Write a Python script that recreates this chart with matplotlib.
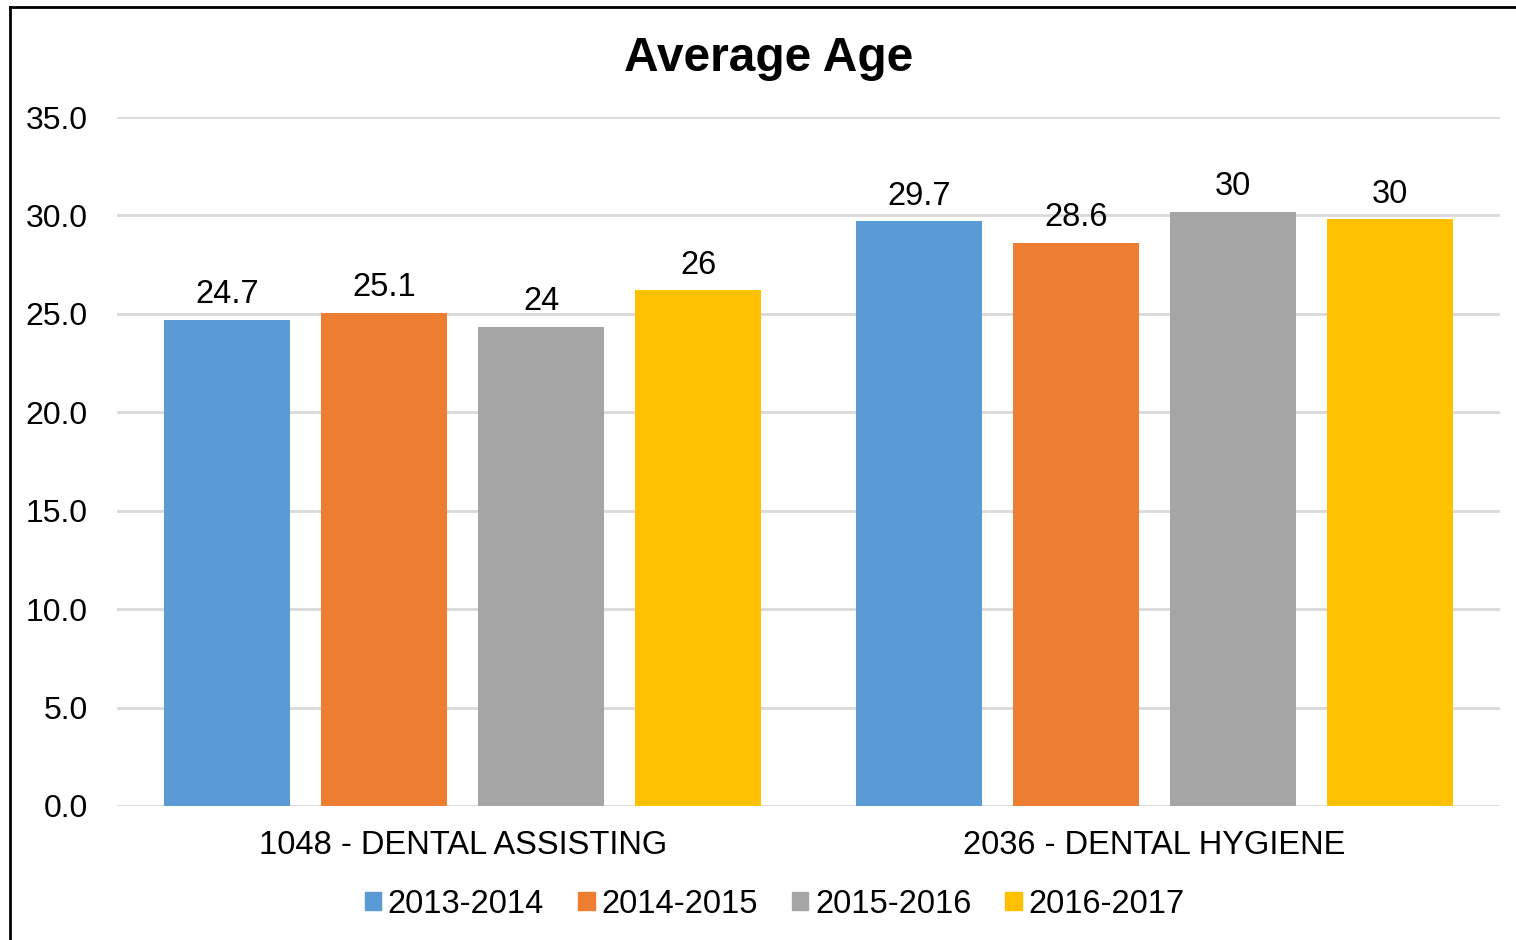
import numpy as np
import matplotlib.pyplot as plt
from matplotlib.lines import Line2D

plt.rcParams['font.family'] = ['Liberation Sans', 'DejaVu Sans']

categories = ["1048 - DENTAL ASSISTING", "2036 - DENTAL HYGIENE"]
years = ["2013-2014", "2014-2015", "2015-2016", "2016-2017"]
values = {
    "2013-2014": [24.7, 29.7],
    "2014-2015": [25.05, 28.6],
    "2015-2016": [24.35, 30.2],
    "2016-2017": [26.2, 29.8],
}
labels = {
    "2013-2014": ["24.7", "29.7"],
    "2014-2015": ["25.1", "28.6"],
    "2015-2016": ["24", "30"],
    "2016-2017": ["26", "30"],
}
colors = ["#5B9BD5", "#ED7D31", "#A5A5A5", "#FFC000"]

fig = plt.figure(figsize=(15.16, 9.4), dpi=100)
ax = fig.add_axes([0.0772, 0.1426, 0.9122, 0.7329])

x = np.arange(len(categories))
w = 0.182
step = 0.227
for i, yr in enumerate(years):
    pos = x + (i - 1.5) * step
    bars = ax.bar(pos, values[yr], width=w, color=colors[i], label=yr, zorder=3)
    for b, lab in zip(bars, labels[yr]):
        ax.annotate(lab, (b.get_x() + b.get_width() / 2, b.get_height()),
                    xytext=(0, 12), textcoords='offset points',
                    ha='center', va='baseline', fontsize=23.5)

ax.set_xlim(-0.5, 1.5)
ax.set_ylim(0, 35)
ax.set_yticks(np.arange(0, 35.1, 5))
ax.set_yticklabels([f"{v:.1f}" for v in np.arange(0, 35.1, 5)])
ax.set_xticks(x)
ax.set_xticklabels(categories)
ax.tick_params(axis='y', length=0, pad=21, labelsize=23)
ax.tick_params(axis='x', length=0, pad=17, labelsize=23.5)
ax.grid(axis='y', color='#D9D9D9', linewidth=2, zorder=0)
for s in ax.spines.values():
    s.set_visible(False)

fig.text(0.507, 0.938, "Average Age", ha='center', va='center',
         fontsize=34.5, fontweight='bold')

handles = [plt.Rectangle((0, 0), 1, 1, color=c) for c in colors]
fig.legend(handles, years, loc='center', bbox_to_anchor=(0.511, 0.038),
           ncol=4, frameon=False, fontsize=23.5, handlelength=0.5,
           handleheight=0.5, handletextpad=0.2, columnspacing=1.05)

# outer border (left and top edges visible)
fig.add_artist(Line2D([10 / 1516, 10 / 1516], [0, 1 - 7 / 940], color='black',
                      linewidth=2, transform=fig.transFigure))
fig.add_artist(Line2D([10 / 1516, 1], [1 - 7 / 940, 1 - 7 / 940], color='black',
                      linewidth=2, transform=fig.transFigure))

fig.savefig("out.png", dpi=100)
